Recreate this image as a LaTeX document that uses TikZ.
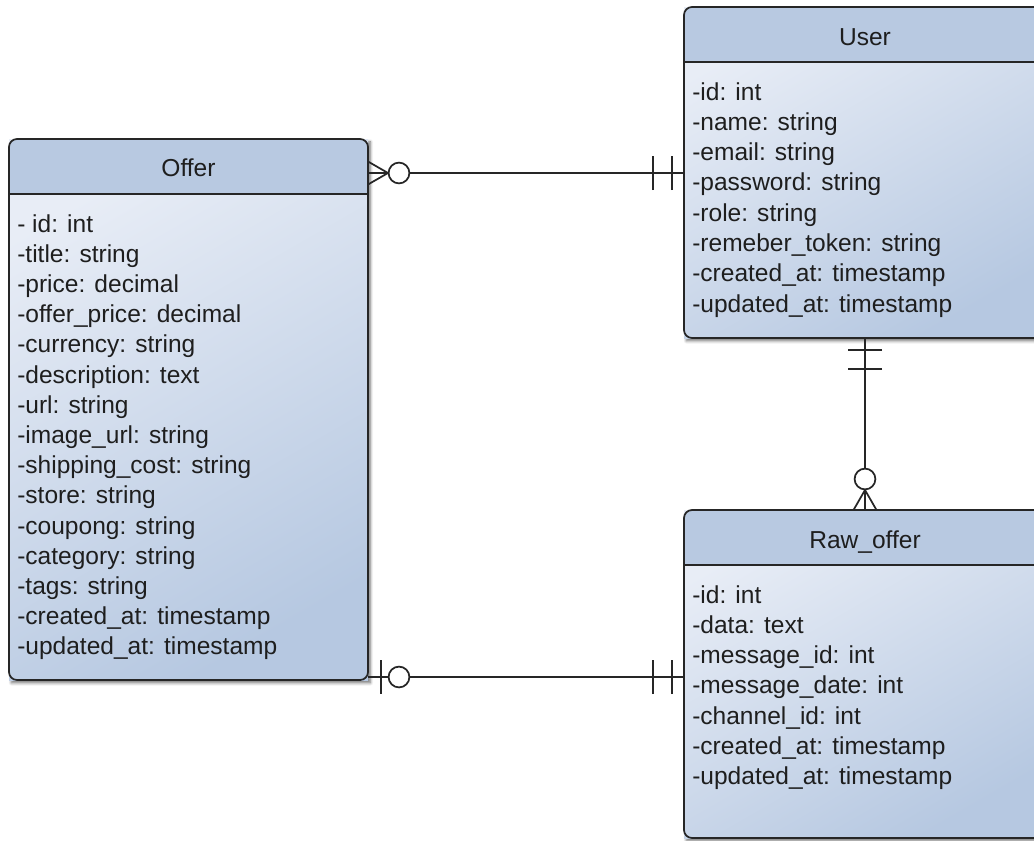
\documentclass[tikz,border=0pt]{standalone}
\usepackage{fontspec}
\setmainfont{Liberation Sans}
\usetikzlibrary{calc,shadows.blur}

\definecolor{headblue}{HTML}{B8C9E1}
\definecolor{bodylight}{HTML}{E8EDF6}
\definecolor{bodydark}{HTML}{B6C8E1}
\definecolor{edge}{HTML}{262626}
\definecolor{ink}{HTML}{1E1E1E}

\tikzset{
  entity/.style={rectangle, outer sep=0pt, inner sep=0pt, anchor=north west,
    top color=bodylight, bottom color=bodydark, shading angle=30,
    blur shadow={shadow xshift=1.8pt, shadow yshift=-2.2pt,
      shadow blur steps=6, shadow opacity=55}},
  outline/.style={draw=edge, line width=1.3pt},
  title/.style={font=\fontsize{18.4}{22}\selectfont, text=ink, inner sep=0pt, anchor=base},
  attr/.style={font=\fontsize{18.4}{22}\selectfont, text=ink, inner sep=0pt, anchor=base west},
  conn/.style={draw=edge, line width=1.3pt},
  % crow's foot symbols, drawn outward from an entity edge along +x
  pics/many/.style={code={
    \draw[conn] (0,-11.5) -- (20,0) -- (0,11.5);
    \draw[conn, fill=white] (31,0) circle[radius=7.8pt];}},
  pics/zeroone/.style={code={
    \draw[conn] (13,-17) -- (13,17);
    \draw[conn, fill=white] (31,0) circle[radius=7.8pt];}},
  pics/one/.style={code={
    \draw[conn] (12,-17) -- (12,17);
    \draw[conn] (31,-17) -- (31,17);}},
}

\begin{document}
\begin{tikzpicture}[x=0.75pt, y=-0.75pt]
\useasboundingbox (0,0) rectangle (1034,840);
\clip (0,0) rectangle (1034,840);

% entity boxes
\node[entity, minimum width=359*0.75pt, minimum height=541*0.75pt] (offer) at (9,139) {};
\node[entity, minimum width=362*0.75pt, minimum height=331*0.75pt] (user) at (684,7) {};
\node[entity, minimum width=362*0.75pt, minimum height=328*0.75pt] (rawoffer) at (684,510) {};

% header bands, separators and outlines
\foreach \e in {offer,user,rawoffer} {
  \coordinate (\e-hd) at ($(\e.north west)+(0,55)$);
  \begin{scope}
    \clip[rounded corners=6pt] (\e.north west) rectangle (\e.south east);
    \fill[headblue] (\e.north west) rectangle (\e.east |- \e-hd);
  \end{scope}
  \draw[outline] (\e.west |- \e-hd) -- (\e.east |- \e-hd);
  \draw[outline, rounded corners=6pt] (\e.north west) rectangle (\e.south east);
}

% titles
\node[title] (offer-title) at ($(offer.north)+(0,37)$) {Offer};
\node[title] (user-title) at ($(user.north)+(0,38)$) {User};
\node[title] (rawoffer-title) at ($(rawoffer.north)+(0,38)$) {Raw\_offer};

% attributes
\foreach \t [count=\i] in {- id: int, -title: string, -price: decimal,
    -offer\_price: decimal, -currency: string, -description: text,
    -url: string, -image\_url: string, -shipping\_cost: string,
    -store: string, -coupong: string, -category: string, -tags: string,
    -created\_at: timestamp, -updated\_at: timestamp}
  \node[attr] (offer-a\i) at ($(offer.north west)+(8,93+30.2*\i-30.2)$) {\t};

\foreach \t [count=\i] in {-id: int, -name: string, -email: string,
    -password: string, -role: string, -remeber\_token: string,
    -created\_at: timestamp, -updated\_at: timestamp}
  \node[attr] (user-a\i) at ($(user.north west)+(8,93+30.3*\i-30.3)$) {\t};

\foreach \t [count=\i] in {-id: int, -data: text, -message\_id: int,
    -message\_date: int, -channel\_id: int, -created\_at: timestamp,
    -updated\_at: timestamp}
  \node[attr] (rawoffer-a\i) at ($(rawoffer.north west)+(8,93+30.3*\i-30.3)$) {\t};

% relationships
\coordinate (offer-c1) at ($(offer.north east)+(0,34)$);
\coordinate (user-c1) at (user.west |- offer-c1);
\coordinate (offer-c2) at ($(offer.north east)+(0,538)$);
\coordinate (rawoffer-c1) at (rawoffer.west |- offer-c2);

\draw[conn] (offer-c1) -- (user-c1);
\draw[conn] (offer-c2) -- (rawoffer-c1);
\draw[conn] (user.south) -- (rawoffer.north);

\pic at (offer-c1) {many};
\pic[rotate=180] at (user-c1) {one};
\pic at (offer-c2) {zeroone};
\pic[rotate=180] at (rawoffer-c1) {one};
\pic[rotate=-90] at (user.south) {one};
\pic[rotate=90] at (rawoffer.north) {many};
\end{tikzpicture}
\end{document}
